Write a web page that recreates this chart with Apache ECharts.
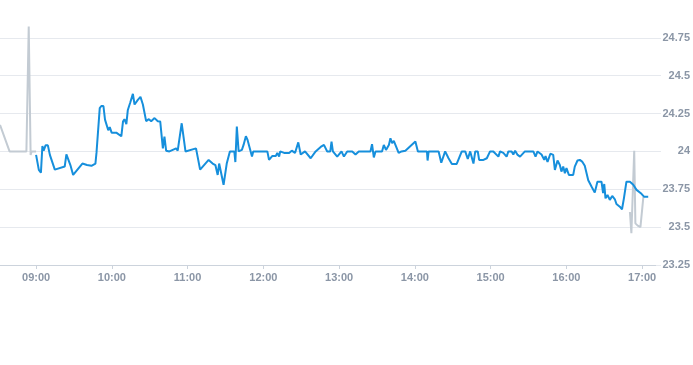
<!DOCTYPE html>
<html><head><meta charset="utf-8">
<script src="https://cdn.jsdelivr.net/npm/echarts@6/dist/echarts.min.js"></script>
<style>html,body{margin:0;padding:0;background:#fff}#c{width:693px;height:365px}</style>
</head><body><div id="c"></div>
<script>
var DAY = '2024-01-02 ';
var preTimes = ['08:31:25','08:39:00','08:52:20','08:54:10','08:55:40','08:56:30','09:00:00'];
var preValues = [24.175,24.0,24.0,24.825,23.977,24.0,24.0];

var mainTimes = ['09:00:00','09:02:10','09:03:50','09:05:00','09:06:00','09:07:30','09:09:20','09:10:55','09:12:10','09:14:50','09:22:40','09:24:00','09:25:20','09:27:10','09:29:20','09:36:40','09:40:20','09:43:50','09:47:00','09:47:50','09:50:25','09:51:40','09:53:20','09:54:35','09:56:00','09:57:10','09:58:20','09:59:50','10:00:25','10:03:30','10:07:30','10:08:50','10:10:00','10:11:30','10:12:40','10:14:35','10:16:40','10:18:00','10:20:35','10:22:40','10:24:35','10:27:10','10:29:20','10:31:10','10:33:50','10:36:25','10:38:20','10:40:25','10:41:40','10:43:00','10:45:35','10:50:55','10:52:10','10:53:30','10:55:20','10:58:20','11:06:40','11:08:00','11:09:55','11:16:40','11:19:50','11:22:00','11:23:50','11:25:00','11:28:30','11:31:00','11:32:30','11:33:30','11:37:00','11:37:50','11:39:00','11:40:25','11:43:00','11:44:20','11:46:10','11:47:30','11:51:00','11:52:00','12:03:10','12:04:30','12:07:10','12:09:50','12:11:05','12:12:30','12:13:20','12:16:25','12:17:50','12:20:25','12:22:30','12:25:05','12:27:40','12:29:35','12:33:00','12:37:30','12:41:25','12:45:25','12:48:00','12:50:35','12:53:00','12:54:00','12:55:05','12:58:30','13:01:55','13:03:50','13:06:25','13:10:25','13:13:00','13:15:35','13:24:50','13:26:05','13:27:30','13:28:50','13:34:00','13:35:25','13:37:10','13:39:25','13:40:40','13:42:00','13:43:20','13:44:35','13:47:10','13:49:25','13:52:30','14:00:25','14:02:25','14:09:35','14:10:05','14:10:55','14:18:50','14:20:55','14:24:00','14:26:40','14:29:20','14:33:10','14:37:10','14:39:55','14:41:55','14:43:50','14:45:05','14:46:25','14:47:50','14:49:50','14:50:55','14:54:20','14:57:00','14:59:35','15:02:10','15:06:10','15:07:30','15:10:05','15:12:40','15:14:05','15:16:40','15:18:00','15:19:25','15:21:25','15:23:20','15:27:10','15:33:50','15:35:35','15:37:10','15:40:20','15:42:30','15:43:30','15:45:05','15:47:20','15:49:35','15:50:55','15:53:00','15:54:50','15:56:05','15:57:30','15:58:50','16:00:05','16:02:00','16:05:25','16:06:40','16:08:50','16:10:40','16:12:30','16:14:35','16:17:20','16:19:55','16:22:30','16:24:35','16:27:50','16:29:05','16:30:00','16:31:00','16:32:35','16:34:25','16:36:20','16:38:25','16:39:40','16:42:20','16:44:05','16:45:35','16:46:50','16:47:35','16:50:20','16:53:00','16:55:35','16:59:30','17:01:40','17:04:50'];
var mainValues = [23.977,23.878,23.86,24.036,24.005,24.04,24.04,23.977,23.98,23.88,23.9,23.98,23.977,23.91,23.845,23.92,23.91,23.905,23.92,23.99,24.286,24.3,24.3,24.21,24.2,24.14,24.16,24.124,24.13,24.124,24.1,24.197,24.213,24.18,24.274,24.323,24.38,24.31,24.34,24.36,24.31,24.2,24.213,24.2,24.22,24.2,24.197,24.02,24.098,24.005,24.0,24.02,24.005,24.005,24.186,24.0,24.02,24.01,23.88,23.944,23.92,23.91,23.845,23.92,23.78,23.92,23.92,24.0,24.0,23.93,24.164,24.0,24.01,24.043,24.1,24.076,23.966,24.0,24.0,23.944,23.97,23.97,23.99,23.966,24.0,23.99,24.0,23.99,24.005,23.99,24.06,23.98,24.0,23.955,24.0,24.03,24.043,24.0,24.0,24.065,24.0,23.966,24.0,23.966,24.0,24.0,23.98,24.0,24.0,24.048,23.96,24.0,24.0,24.043,24.01,24.043,24.087,24.054,24.07,24.065,23.99,24.0,24.005,24.065,24.0,24.0,23.94,24.0,24.0,23.925,24.0,23.955,23.917,23.917,24.0,24.0,23.95,24.0,24.0,23.92,24.0,24.0,23.944,23.944,23.955,24.0,24.0,23.966,24.0,23.99,23.966,24.0,24.0,23.98,24.005,23.977,23.966,24.0,24.0,23.966,24.0,23.98,23.944,23.97,23.93,23.985,23.977,23.878,23.94,23.91,23.867,23.9,23.856,23.89,23.845,23.845,23.9,23.94,23.944,23.933,23.905,23.81,23.768,23.728,23.8,23.8,23.724,23.785,23.69,23.713,23.68,23.706,23.684,23.653,23.635,23.618,23.69,23.69,23.8,23.8,23.78,23.746,23.72,23.7,23.7];

var postTimes = ['16:50:20','16:51:30','16:53:00','16:53:45','16:54:40','16:56:30','16:58:40','16:59:50','17:01:00'];
var postValues = [23.6,23.46,23.46,24.005,23.525,23.51,23.5,23.5,23.7];

var xMin = '08:31:25', xMax = '17:11:00';
var yMin = 23.25, yMax = 25, yStep = 0.25;

function pairs(t, v){ return t.map(function(s,i){ return [DAY + s, v[i]]; }); }

var chart = echarts.init(document.getElementById('c'), null, {renderer:'canvas'});
var labelColor = '#8b96a6';
chart.setOption({
  animation:false,
  grid:{left:0,right:35,top:0,bottom:100,containLabel:false},
  xAxis:{
    type:'time', min: DAY + xMin, max: DAY + xMax,
    minInterval:3600000, maxInterval:3600000,
    axisLine:{show:true,lineStyle:{color:'#ccd3dc',width:1}},
    axisTick:{show:true,length:4,lineStyle:{color:'#ccd3dc'}},
    axisLabel:{showMinLabel:false,showMaxLabel:false,color:labelColor,fontSize:11,fontWeight:'bold',fontFamily:'Liberation Sans, Arial, sans-serif',margin:7,
      formatter:function(v){var d=new Date(v);var h=d.getHours(),m=d.getMinutes();return (h<10?'0':'')+h+':'+(m<10?'0':'')+m;}},
    splitLine:{show:false}
  },
  yAxis:{
    type:'value', position:'right', min:yMin, max:yMax, interval:yStep,
    axisLine:{show:false},
    axisTick:{show:true,length:5,lineStyle:{color:'#e6e9ee'}},
    axisLabel:{showMaxLabel:false,color:labelColor,fontSize:11,fontWeight:'bold',fontFamily:'Liberation Sans, Arial, sans-serif',align:'right',margin:34},
    splitLine:{show:true,showMaxLine:false,lineStyle:{color:'#e6e9ee',width:1}}
  },
  series:[
    {type:'line',data:pairs(preTimes,preValues),showSymbol:false,symbol:'none',lineStyle:{color:'#c3cbd3',width:2},z:2},
    {type:'line',data:pairs(postTimes,postValues),showSymbol:false,symbol:'none',lineStyle:{color:'#c3cbd3',width:2},z:2},
    {type:'line',data:pairs(mainTimes,mainValues),showSymbol:false,symbol:'none',lineStyle:{color:'#168fdc',width:2},z:3}
  ]
});
</script></body></html>
